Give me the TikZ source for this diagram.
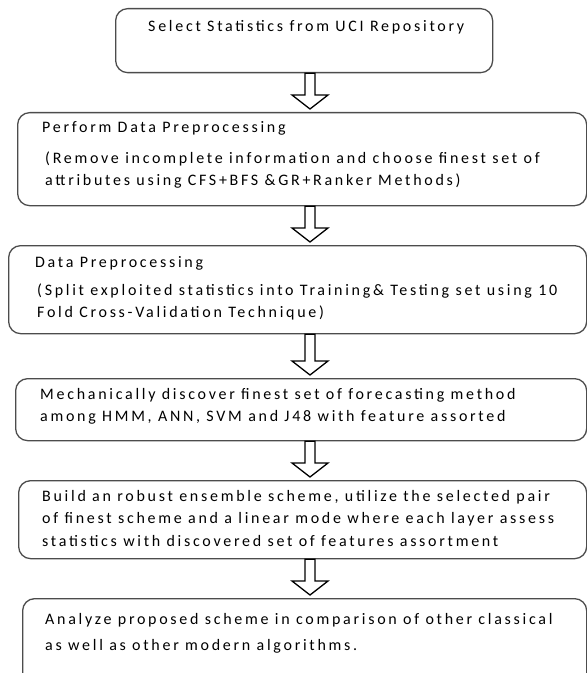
\documentclass[tikz,border=0pt]{standalone}
\usepackage{fontspec}
\setmainfont{Carlito}[LetterSpace=17]
\usetikzlibrary{calc}

\tikzset{
  stepbox/.style={draw=black!70, line width=1.3bp, rounded corners=12bp, fill=white,
    anchor=north west, inner sep=0pt},
  boxtext/.style={anchor=base west, align=left, inner sep=0pt,
    font=\fontsize{16bp}{22bp}\selectfont},
  blockarrow/.style={draw=black, line width=1.3bp, fill=white,
    to path={let \p1=(\tikztostart), \p2=(\tikztotarget) in
      (\x1-5bp,\y1) -- (\x1+5bp,\y1) -- (\x1+5bp,\y2+17bp) -- (\x1+18bp,\y2+17bp)
      -- (\x2,\y2+3bp) -- (\x1-18bp,\y2+17bp) -- (\x1-5bp,\y2+17bp) -- cycle}}
}

\begin{document}
\begin{tikzpicture}[x=1bp, y=-1bp]
				\useasboundingbox (0,0) rectangle (587,673);
				\clip (0,0) rectangle (587,673);
				% Boxes of the flow
				\node[stepbox, minimum width=377bp, minimum height=64bp] (box1) at (115,8) {};
				\node[stepbox, minimum width=569bp, minimum height=93bp] (box2) at (17,112) {};
				\node[stepbox, minimum width=578bp, minimum height=88bp] (box3) at (8,245) {};
				\node[stepbox, minimum width=571bp, minimum height=62bp] (box4) at (15,378) {};
				\node[stepbox, minimum width=568bp, minimum height=78bp] (box5) at (18,480) {};
				\node[stepbox, minimum width=564bp, minimum height=110bp] (box6) at (22,598) {};
				% Texts (multi-line ones sit on their last baseline)
				\node[boxtext] (t1) at (148,32) {Select Statistics from UCI Repository};
				\node[boxtext] (t2a) at (42,133) {Perform Data Preprocessing};
				\node[boxtext] (t2b) at (45,185) {(Remove incomplete information and choose finest set of\\
					attributes using CFS+BFS \&GR+Ranker Methods)};
				\node[boxtext] (t3a) at (35,267) {Data Preprocessing};
				\node[boxtext] (t3b) at (37,317) {(Split exploited statistics into Training\& Testing set using 10\\
					Fold Cross-Validation Technique)};
				\node[boxtext] (t4) at (40,421) {Mechanically discover finest set of forecasting method\\
					among HMM, ANN, SVM and J48 with feature assorted};
				\node[boxtext, font=\fontsize{16bp}{22.5bp}\selectfont] (t5) at (42,546) {Build an robust ensemble scheme, utilize the selected pair\\
					of finest scheme and a linear mode where each layer assess\\
					statistics with discovered set of features assortment};
				\node[boxtext, font=\fontsize{16bp}{26bp}\selectfont] (t6) at (45,650) {Analyze proposed scheme in comparison of other classical\\
					as well as other modern algorithms.};
				% Block arrows between boxes
				\coordinate (ax) at (310,0);
				\draw[blockarrow] (box1.south -| ax) to (box2.north -| ax);
				\draw[blockarrow] (box2.south -| ax) to (box3.north -| ax);
				\draw[blockarrow] (box3.south -| ax) to (box4.north -| ax);
				\draw[blockarrow] (box4.south -| ax) to (box5.north -| ax);
				\draw[blockarrow] (box5.south -| ax) to (box6.north -| ax);
\end{tikzpicture}
\end{document}
